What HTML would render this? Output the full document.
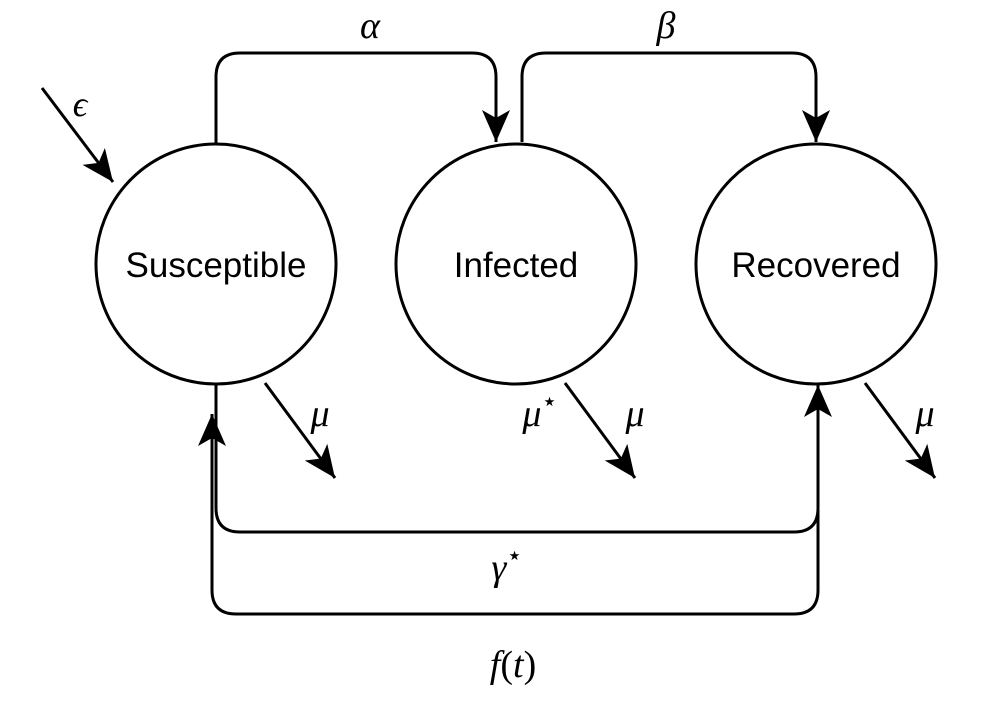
<!DOCTYPE html>
<html><head><meta charset="utf-8"><style>
html,body{margin:0;padding:0;background:#fff;}
svg{display:block;}
text{font-family:"Liberation Serif",serif;font-style:italic;fill:#000;}
.lbl{font-family:"Liberation Sans",sans-serif;font-style:normal;font-size:35px;}
</style></head><body>
<svg width="1004" height="713" viewBox="0 0 1004 713">
<defs>
<marker id="ah" viewBox="0 0 34 34" refX="32" refY="17" markerWidth="34" markerHeight="34" markerUnits="userSpaceOnUse" orient="auto">
<path d="M0,3 L32,17 L0,31 L8,17 Z" fill="#000"/>
</marker>
</defs>
<g fill="none" stroke="#000" stroke-width="3">
<circle cx="216" cy="264" r="120"/>
<circle cx="516" cy="264" r="120"/>
<circle cx="816" cy="264" r="120"/>
<path d="M216,144 V77 Q216,53 240,53 H472 Q496,53 496,77 V142" marker-end="url(#ah)"/>
<path d="M522,142 V77 Q522,53 546,53 H792 Q816,53 816,77 V142" marker-end="url(#ah)"/>
<path d="M42,88 L113,182" marker-end="url(#ah)"/>
<path d="M265,383 L335,478" marker-end="url(#ah)"/>
<path d="M565,383 L635,478" marker-end="url(#ah)"/>
<path d="M865,383 L935,478" marker-end="url(#ah)"/>
<path d="M216,384 V508 Q216,532 240,532 H794 Q818,532 818,508 V385" marker-end="url(#ah)"/>
<path d="M818,510 V590 Q818,614 794,614 H236 Q212,614 212,590 V414" marker-end="url(#ah)"/>
</g>
<text class="lbl" x="216" y="277" text-anchor="middle">Susceptible</text>
<text class="lbl" x="516" y="277" text-anchor="middle">Infected</text>
<text class="lbl" x="816" y="277" text-anchor="middle">Recovered</text>
<text x="370" y="38" font-size="38" text-anchor="middle">α</text>
<text x="666" y="38" font-size="38" text-anchor="middle">β</text>
<text x="80" y="116" font-size="36" text-anchor="middle">ϵ</text>
<text x="320" y="426" font-size="38" text-anchor="middle">μ</text>
<text x="540" y="426" font-size="38" text-anchor="middle">μ<tspan font-size="26" dy="-16" font-style="normal">⋆</tspan></text>
<text x="635" y="426" font-size="38" text-anchor="middle">μ</text>
<text x="925" y="426" font-size="38" text-anchor="middle">μ</text>
<text x="507" y="580" font-size="38" text-anchor="middle">γ<tspan font-size="26" dy="-16" font-style="normal">⋆</tspan></text>
<text x="513" y="677" font-size="38" text-anchor="middle">f<tspan font-style="normal">(</tspan>t<tspan font-style="normal">)</tspan></text>
</svg>
</body></html>
